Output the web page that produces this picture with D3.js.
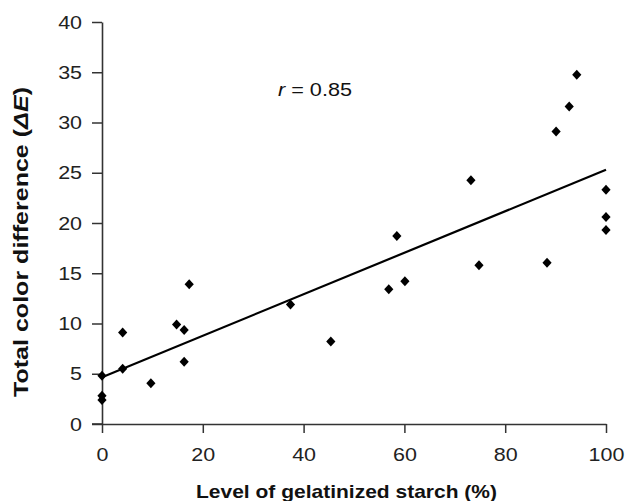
<!DOCTYPE html>
<html>
<head>
<meta charset="utf-8">
<script src="https://cdn.jsdelivr.net/npm/d3@7"></script>
<style>
  body { margin: 0; background: #fff; }
  svg { display: block; font-family: "Liberation Sans", Arial, sans-serif; }
</style>
</head>
<body>
<svg id="chart" width="626" height="501"></svg>
<script>
const xValues = [0, 0, 0, 4.1, 4.1, 9.7, 14.8, 16.3, 16.3, 17.3, 37.4, 45.4, 56.9, 58.5, 60.1, 73.2, 74.8, 88.3, 90.1, 92.7, 94.2, 100, 100, 100];
const yValues = [4.8, 2.8, 2.4, 9.1, 5.5, 4.05, 9.9, 9.35, 6.2, 13.9, 11.9, 8.2, 13.4, 18.7, 14.2, 24.25, 15.8, 16.05, 29.1, 31.6, 34.75, 23.3, 20.6, 19.3];
const trendX = [0, 100];
const trendY = [4.65, 25.3];
const xTicks = [0, 20, 40, 60, 80, 100];
const yTicks = [0, 5, 10, 15, 20, 25, 30, 35, 40];
const rLabel = "0.85";

const svg = d3.select("#chart");
const x = d3.scaleLinear().domain([0, 100]).range([102, 606]);
const y = d3.scaleLinear().domain([0, 40]).range([424, 22]);

const axisColor = "#333";
const stretch = 1.13;

function widen(sel, factor) {
  sel.each(function () {
    const w = this.getComputedTextLength();
    d3.select(this).attr("textLength", w * factor).attr("lengthAdjust", "spacingAndGlyphs");
  });
}

const xAxis = svg.append("g").attr("transform", "translate(0,424)")
  .call(d3.axisBottom(x).tickValues(xTicks).tickSize(9).tickSizeOuter(0).tickPadding(15));
const yAxis = svg.append("g").attr("transform", "translate(102,0)")
  .call(d3.axisLeft(y).tickValues(yTicks).tickSize(10).tickSizeOuter(0).tickPadding(10));

[xAxis, yAxis].forEach(g => {
  g.select(".domain").attr("stroke", axisColor).attr("stroke-width", 1.6);
  g.selectAll(".tick line").attr("stroke", axisColor).attr("stroke-width", 1.5);
  g.selectAll(".tick text").attr("fill", "#222").style("font-size", "19px")
    .style("font-family", "'Liberation Sans', Arial, sans-serif");
});
widen(xAxis.selectAll(".tick text"), stretch);
widen(yAxis.selectAll(".tick text"), stretch);

// extend x-axis line left to meet y-axis tick at 0
svg.append("line").attr("x1", 92).attr("x2", 102).attr("y1", 424).attr("y2", 424)
  .attr("stroke", axisColor).attr("stroke-width", 1.6);

// trend line
svg.append("line")
  .attr("x1", x(trendX[0])).attr("y1", y(trendY[0]))
  .attr("x2", x(trendX[1])).attr("y2", y(trendY[1]))
  .attr("stroke", "#000").attr("stroke-width", 2.2);

// points
const pts = xValues.map((v, i) => ({ x: v, y: yValues[i] }));
svg.append("g").selectAll("path").data(pts).enter().append("path")
  .attr("d", d => {
    const cx = x(d.x), cy = y(d.y), w = 4.6, h = 5;
    return `M${cx},${cy - h}L${cx + w},${cy}L${cx},${cy + h}L${cx - w},${cy}Z`;
  })
  .attr("fill", "#000");

// r label
const rt = svg.append("text").attr("x", 278).attr("y", 96)
  .style("font-size", "19px").attr("fill", "#111");
rt.append("tspan").style("font-style", "italic").text("r");
rt.append("tspan").text(" = " + rLabel);
rt.attr("textLength", 74).attr("lengthAdjust", "spacingAndGlyphs");

// x title
svg.append("text").attr("x", 346.5).attr("y", 498).attr("text-anchor", "middle")
  .style("font-size", "19px").style("font-weight", "bold").attr("fill", "#111")
  .attr("textLength", 301).attr("lengthAdjust", "spacingAndGlyphs")
  .text("Level of gelatinized starch (%)");

// y title
const yt = svg.append("text").attr("transform", "translate(28,242) rotate(-90)")
  .attr("text-anchor", "middle").style("font-size", "20px").style("font-weight", "bold").attr("fill", "#111");
yt.append("tspan").text("Total color difference (");
yt.append("tspan").style("font-style", "italic").text("ΔE");
yt.append("tspan").text(")");
yt.attr("textLength", 310).attr("lengthAdjust", "spacingAndGlyphs");
</script>
</body>
</html>
